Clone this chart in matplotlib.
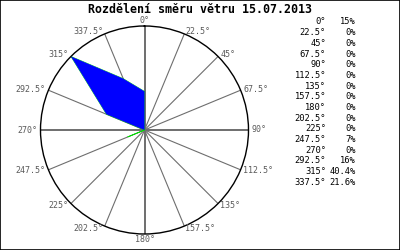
import numpy as np
import matplotlib.pyplot as plt
from matplotlib.patches import Rectangle

title = 'Rozdělení směru větru 15.07.2013'
directions = [0, 22.5, 45, 67.5, 90, 112.5, 135, 157.5, 180,
              202.5, 225, 247.5, 270, 292.5, 315, 337.5]
dir_labels = ['0°', '22.5°', '45°', '67.5°', '90°', '112.5°', '135°', '157.5°', '180°',
              '202.5°', '225°', '247.5°', '270°', '292.5°', '315°', '337.5°']
percents = [15, 0, 0, 0, 0, 0, 0, 0, 0, 0, 0, 7, 0, 16, 40.4, 21.6]
pct_labels = ['15%', '0%', '0%', '0%', '0%', '0%', '0%', '0%', '0%',
              '0%', '0%', '7%', '0%', '16%', '40.4%', '21.6%']

mono = 'DejaVu Sans Mono'
gray = '#5a5a5a'

fig = plt.figure(figsize=(4, 2.5), dpi=100)
fig.patch.set_facecolor('white')
fig.patches.append(Rectangle((0, 0), 1, 1, transform=fig.transFigure,
                             fill=False, edgecolor='black', linewidth=1.2))

# circle centre ~ (144.5, 130) px, radius ~104 px
cx, cy, rad = 144.5, 130, 104
ax = fig.add_axes([(cx - rad) / 400, (250 - cy - rad) / 250, 2 * rad / 400, 2 * rad / 250],
                  projection='polar')
ax.set_theta_zero_location('N')
ax.set_theta_direction(-1)
rmax = max(percents)
ax.set_ylim(0, rmax)
ax.set_xticks([])
ax.set_yticks([])
ax.grid(False)
ax.spines['polar'].set_color('black')
ax.spines['polar'].set_linewidth(1.0)

theta = np.radians(directions)
for t, d in zip(theta, directions):
    main = d % 90 == 0
    ax.plot([t, t], [0, rmax], color='#6e6e6e', lw=1.4 if main else 0.8, zorder=1)

closed_t = np.append(theta, theta[0])
closed_r = np.append(percents, percents[0])
ax.plot(closed_t, closed_r, color='#00dd00', lw=0.5, zorder=2)
ax.fill(closed_t, closed_r, color='#0000ff', lw=0, zorder=3)

for t, d, lab in zip(theta, directions, dir_labels):
    if d == 0:
        ax.text(t, rmax * 1.01, lab, ha='center', va='bottom', fontsize=6, family=mono, color=gray)
    elif d == 180:
        ax.text(t, rmax * 1.01, lab, ha='center', va='top', fontsize=6, family=mono, color=gray)
    else:
        ha = 'left' if d < 180 else 'right'
        ax.text(t, rmax * 1.03, lab, ha=ha, va='center', fontsize=6, family=mono, color=gray)

fig.text(0.5 + 0.5 / 400, 1 - 9.5 / 250, title, ha='center', va='center',
         fontsize=8.4, fontweight='bold', family=mono)

for i, (lab, pl) in enumerate(zip(dir_labels, pct_labels)):
    y = 1 - (22 + i * 10.67) / 250
    fig.text(326 / 400, y, lab, ha='right', va='center', fontsize=6.3, family=mono)
    fig.text(356 / 400, y, pl, ha='right', va='center', fontsize=6.3, family=mono)

fig.savefig('out.png', dpi=100)
